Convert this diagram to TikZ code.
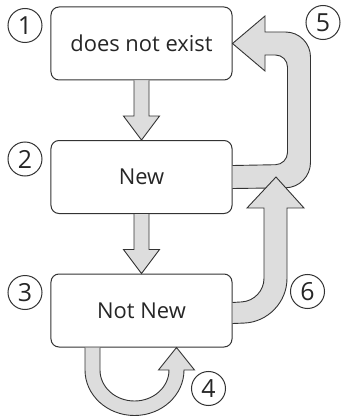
\documentclass[tikz,border=0pt]{standalone}
\usepackage{fontspec}
\setmainfont{Open Sans}
\usetikzlibrary{calc, positioning}

\begin{document}
\begin{tikzpicture}[x=1bp, y=1bp, node distance=59.5bp,
    state/.style={draw=black!80, line width=1bp, fill=white, rounded corners=8bp,
        minimum width=181bp, minimum height=73bp, text=black!85, font=\fontsize{22}{26}\selectfont},
    num/.style={circle, draw=black!80, line width=1bp, minimum size=34bp, inner sep=0pt,
        text=black!85, font=\fontsize{25}{29}\selectfont},
    blk/.style={draw=black!80, fill=gray!27, line width=0.9bp}]
    \useasboundingbox (0,0) rectangle (341,417);
    \pgfmathsetmacro{\sh}{7.5}
    \pgfmathsetmacro{\hw}{18}
    \pgfmathsetmacro{\hl}{24}

    \node[state] (b1) at (141.5,373.5) {does not exist};
    \node[state, below=of b1] (b2) {New};
    \node[state, below=of b2] (b3) {Not New};

    \node[num, left=8bp of b1.north west, yshift=-19bp] (n1) {1};
    \node[num, left=8bp of b2.north west, yshift=-19bp] (n2) {2};
    \node[num, left=8bp of b3.north west, yshift=-19bp] (n3) {3};
    \node[num] (n4) at (208.5,28.5) {4};
    \node[num] (n5) at (323,394.5) {5};
    \node[num] (n6) at (307.5,125.5) {6};

    % straight steps
    \draw[blk] ($(b1.south)+(-\sh,0)$) -- ($(b2.north)+(-\sh,\hl)$) -- ($(b2.north)+(-\hw,\hl)$)
        -- (b2.north) -- ($(b2.north)+(\hw,\hl)$) -- ($(b2.north)+(\sh,\hl)$) -- ($(b1.south)+(\sh,0)$);
    \draw[blk] ($(b2.south)+(-\sh,0)$) -- ($(b3.north)+(-\sh,\hl)$) -- ($(b3.north)+(-\hw,\hl)$)
        -- (b3.north) -- ($(b3.north)+(\hw,\hl)$) -- ($(b3.north)+(\sh,\hl)$) -- ($(b2.south)+(\sh,0)$);

    % back to does not exist
    \draw[blk] ($(b2.east)+(0,11.5)$) [rounded corners=12bp] -- (287.5,252.5) -- (287.5,362)
        [sharp corners] -- (265,362) -- (265,346) -- (b1.east) -- (265,401) -- (265,385)
        [rounded corners=25bp] -- (310.5,385) -- (310.5,229.5)
        [sharp corners] -- ($(b2.east)+(0,-11.5)$);

    % loop on not new
    \draw[blk] ($(b3.south)+(-56.5,0)$) -- (85,47)
        arc[start angle=180, end angle=360, x radius=49.5, y radius=45.5]
        -- (194.5,47) -- ($(b3.south)+(35,0)$) -- (158.5,47) -- (169,47)
        arc[start angle=0, end angle=-180, x radius=34.5, y radius=31]
        -- ($(b3.south)+(-41.5,0)$);

    % not new back to new
    \coordinate (m5) at ($(b2.east)+(43.5,0)$);
    \draw[blk] ($(b3.east)+(0,8)$) [rounded corners=22bp] -- (264,116.5)
        [sharp corners] -- (264,209) -- (247,209) -- (m5) -- (304,209) -- (287,209)
        [rounded corners=43bp] -- (287,95.5)
        [sharp corners] -- ($(b3.east)+(0,-13)$);
\end{tikzpicture}
\end{document}
